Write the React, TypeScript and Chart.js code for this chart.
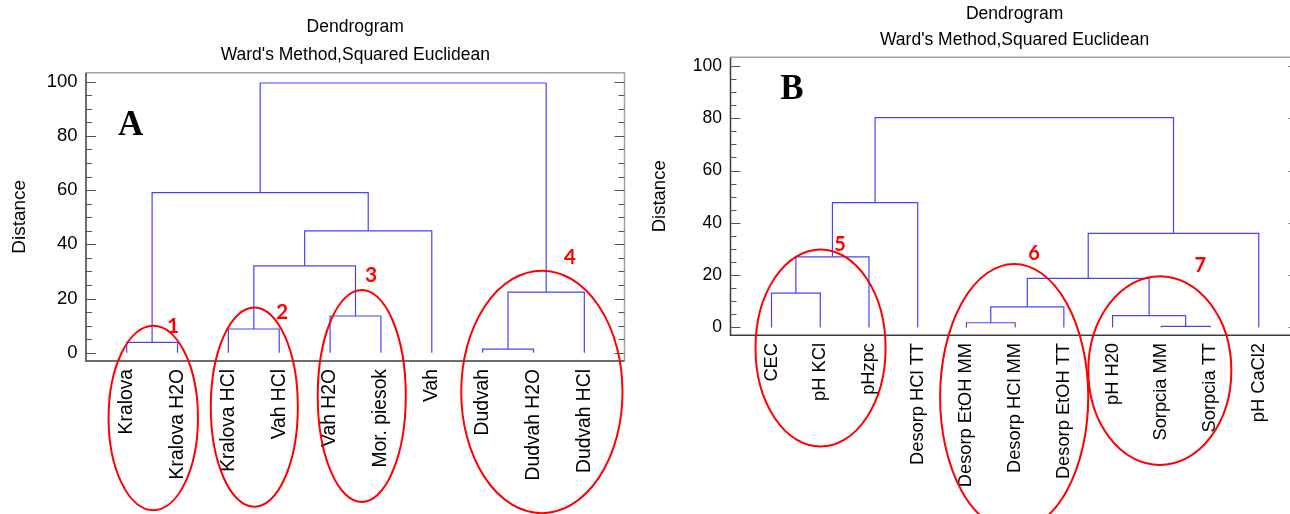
import { useEffect, useRef } from "react";
import { Chart, registerables } from "chart.js";

Chart.register(...registerables);

// ---------- Data: panel A ----------
const leavesA = ["Kralova", "Kralova H2O", "Kralova HCl", "Vah HCl", "Vah H2O", "Mor. piesok", "Vah", "Dudvah", "Dudvah H2O", "Dudvah HCl"];
// merge k joins node mergeLeft[k] with node mergeRight[k]; nodes 0..n-1 are leaves, n+k is the cluster of merge k
const mergeLeftA = [7, 0, 2, 4, 10, 12, 15, 11, 17];
const mergeRightA = [8, 1, 3, 5, 9, 13, 6, 16, 14];
const mergeHeightA = [1.4, 3.9, 8.8, 13.6, 22.4, 32.1, 45.0, 59.1, 99.5];

// ---------- Data: panel B ----------
const leavesB = ["CEC", "pH KCl", "pHzpc", "Desorp HCl TT", "Desorp EtOH MM", "Desorp HCl MM", "Desorp EtOH TT", "pH H20", "Sorpcia MM", "Sorpcia TT", "pH CaCl2"];
const mergeLeftB = [8, 4, 7, 12, 0, 14, 15, 16, 17, 19];
const mergeRightB = [9, 5, 11, 6, 1, 13, 2, 10, 3, 18];
const mergeHeightB = [0.4, 1.8, 4.5, 7.9, 13.1, 18.8, 27.0, 36.0, 47.7, 80.2];

// ---------- Shared text / ticks ----------
const yTickValues = [0, 20, 40, 60, 80, 100];
const minorTickValues = [0, 5, 10, 15, 20, 25, 30, 35, 40, 45, 50, 55, 60, 65, 70, 75, 80, 85, 90, 95, 100];
const chartTitle = "Dendrogram";
const chartSubtitle = "Ward's Method,Squared Euclidean";
const yAxisTitle = "Distance";

// ---------- Annotations (in axis units: leaf index / distance) ----------
const panelLetterA = { text: "A", x: 0.08, y: 80.4 };
const panelLetterB = { text: "B", x: 0.42, y: 87.2 };
const groupEllipsesA = [
  { cx: 0.523, cy: -24.0, rx: 0.879, ry: 34.0 },
  { cx: 2.51, cy: -20.0, rx: 0.856, ry: 36.7 },
  { cx: 4.623, cy: -15.9, rx: 0.866, ry: 39.1 },
  { cx: 8.165, cy: -14.4, rx: 1.586, ry: 44.7 },
];
const groupNumbersA = [
  { text: "1", x: 0.915, y: 7.3 },
  { text: "2", x: 3.057, y: 12.6 },
  { text: "3", x: 4.808, y: 26.2 },
  { text: "4", x: 8.715, y: 32.9 },
];
const groupEllipsesB = [
  { cx: 1.006, cy: -7.86, rx: 1.335, ry: 37.7 },
  { cx: 4.98, cy: -26.6, rx: 1.52, ry: 50.9 },
  { cx: 7.97, cy: -16.5, rx: 1.468, ry: 36.1 },
];
const groupNumbersB = [
  { text: "5", x: 1.407, y: 29.1 },
  { text: "6", x: 5.39, y: 25.9 },
  { text: "7", x: 8.8, y: 21.2 },
];

type Pt = { x: number; y: number };

function buildLinks(n: number, left: number[], right: number[], height: number[]): Pt[][] {
  const pos: number[] = [];
  const h: number[] = [];
  for (let i = 0; i < n; i++) {
    pos[i] = i;
    h[i] = 0;
  }
  const links: Pt[][] = [];
  for (let k = 0; k < left.length; k++) {
    const a = left[k];
    const b = right[k];
    const node = n + k;
    pos[node] = (pos[a] + pos[b]) / 2;
    h[node] = height[k];
    links.push([
      { x: pos[a], y: h[a] },
      { x: pos[a], y: height[k] },
      { x: pos[b], y: height[k] },
      { x: pos[b], y: h[b] },
    ]);
  }
  return links;
}

type PanelProps = {
  leaves: string[];
  mLeft: number[];
  mRight: number[];
  mHeight: number[];
  letter: { text: string; x: number; y: number };
  ellipses: { cx: number; cy: number; rx: number; ry: number }[];
  numbers: { text: string; x: number; y: number }[];
  canvasLeft: number;
  canvasWidth: number;
  areaLeft: number;
  areaRight: number;
  areaTop: number;
  areaBottom: number;
  xMin: number;
  xMax: number;
  titleY: number;
  subtitleY: number;
  titleSize: number;
  tickSize: number;
  leafSize: number;
  axisTitleSize: number;
  axisTitlePad: number;
  tickPad: number;
  leafPad: number;
  numberSize: number;
};

const H = 514;

function Panel(p: PanelProps) {
  const ref = useRef<HTMLCanvasElement | null>(null);
  useEffect(() => {
    if (!ref.current) return;
    const links = buildLinks(p.leaves.length, p.mLeft, p.mRight, p.mHeight);
    const decor = {
      id: "decor",
      afterDraw(chart: any) {
        const { ctx, chartArea } = chart;
        const { left, right, top, bottom } = chartArea;
        const xs = chart.scales.x;
        const ys = chart.scales.y;
        ctx.save();
        // frame
        ctx.lineWidth = 1.5;
        ctx.strokeStyle = "#a3a3a3";
        ctx.beginPath();
        ctx.moveTo(left, top);
        ctx.lineTo(right, top);
        ctx.lineTo(right, bottom);
        ctx.stroke();
        ctx.strokeStyle = "#3c3c3c";
        ctx.beginPath();
        ctx.moveTo(left, top);
        ctx.lineTo(left, bottom);
        ctx.lineTo(right, bottom);
        ctx.stroke();
        // inward ticks
        ctx.lineWidth = 1;
        ctx.strokeStyle = "#555555";
        ctx.beginPath();
        for (const v of minorTickValues) {
          const py = Math.round(ys.getPixelForValue(v)) + 0.5;
          const len = yTickValues.includes(v) ? 10 : 6;
          ctx.moveTo(left, py);
          ctx.lineTo(left + len, py);
          ctx.moveTo(right, py);
          ctx.lineTo(right - len, py);
        }
        ctx.stroke();
        // titles
        const cx = (left + right) / 2;
        ctx.fillStyle = "#000";
        ctx.textAlign = "center";
        ctx.textBaseline = "middle";
        ctx.font = `${p.titleSize}px "Liberation Sans", Arial, sans-serif`;
        ctx.fillText(chartTitle, cx, p.titleY);
        ctx.fillText(chartSubtitle, cx, p.subtitleY);
        // panel letter
        ctx.textBaseline = "alphabetic";
        ctx.font = `bold 35px "Liberation Serif", "Times New Roman", serif`;
        ctx.fillText(p.letter.text, xs.getPixelForValue(p.letter.x), ys.getPixelForValue(p.letter.y));
        // ellipses
        const ux = Math.abs(xs.getPixelForValue(1) - xs.getPixelForValue(0));
        const uy = Math.abs(ys.getPixelForValue(1) - ys.getPixelForValue(0));
        ctx.strokeStyle = "#ff0000";
        ctx.lineWidth = 2;
        for (const e of p.ellipses) {
          ctx.beginPath();
          ctx.ellipse(xs.getPixelForValue(e.cx), ys.getPixelForValue(e.cy), e.rx * ux, e.ry * uy, 0, 0, Math.PI * 2);
          ctx.stroke();
        }
        ctx.fillStyle = "#ff0000";
        ctx.font = `bold ${p.numberSize}px Lato, "Liberation Sans", sans-serif`;
        for (const t of p.numbers) {
          ctx.fillText(t.text, xs.getPixelForValue(t.x), ys.getPixelForValue(t.y));
        }
        ctx.restore();
      },
    };
    const chart = new Chart(ref.current, {
      type: "scatter",
      data: {
        datasets: links.map((d) => ({
          data: d,
          showLine: true,
          borderColor: "#4343ff",
          borderWidth: 1.2,
          pointRadius: 0,
          pointHoverRadius: 0,
          fill: false,
          tension: 0,
        })),
      },
      options: {
        animation: false,
        responsive: false,
        maintainAspectRatio: false,
        events: [],
        layout: {
          padding: { left: 0, top: p.areaTop, right: p.canvasWidth - p.areaRight, bottom: 0 },
        },
        plugins: {
          legend: { display: false },
          tooltip: { enabled: false },
          title: { display: false },
        },
        scales: {
          x: {
            type: "linear",
            min: p.xMin,
            max: p.xMax,
            grid: { display: false, drawTicks: false },
            border: { display: false },
            afterBuildTicks: (s: any) => {
              s.ticks = p.leaves.map((_, i) => ({ value: i }));
            },
            afterFit: (s: any) => {
              s.height = H - p.areaBottom;
            },
            ticks: {
              autoSkip: false,
              minRotation: 90,
              maxRotation: 90,
              padding: p.leafPad,
              color: "#000",
              font: { family: '"Liberation Sans", Arial, sans-serif', size: p.leafSize },
              callback: (v: any) => p.leaves[Math.round(Number(v))] ?? "",
            },
          },
          y: {
            type: "linear",
            min: -3,
            max: 103.3,
            grid: { display: false, drawTicks: false },
            border: { display: false },
            afterBuildTicks: (s: any) => {
              s.ticks = yTickValues.map((v) => ({ value: v }));
            },
            afterFit: (s: any) => {
              s.width = p.areaLeft;
            },
            ticks: {
              padding: p.tickPad,
              color: "#000",
              font: { family: '"Liberation Sans", Arial, sans-serif', size: p.tickSize },
              callback: (v: any) => String(v),
            },
            title: {
              display: true,
              text: yAxisTitle,
              color: "#000",
              padding: { top: p.axisTitlePad, bottom: 0 },
              font: { family: '"Liberation Sans", Arial, sans-serif', size: p.axisTitleSize },
            },
          },
        },
      },
      plugins: [decor],
    } as any);
    return () => chart.destroy();
  }, []);
  return (
    <canvas
      ref={ref}
      width={p.canvasWidth}
      height={H}
      style={{ position: "absolute", left: p.canvasLeft, top: 0, width: p.canvasWidth, height: H }}
    />
  );
}

export default function App() {
  return (
    <div
      style={{
        position: "absolute",
        left: 0,
        top: 0,
        width: 1290,
        height: 514,
        overflow: "hidden",
        background: "#ffffff",
      }}
    >
      <Panel
        leaves={leavesA}
        mLeft={mergeLeftA}
        mRight={mergeRightA}
        mHeight={mergeHeightA}
        letter={panelLetterA}
        ellipses={groupEllipsesA}
        numbers={groupNumbersA}
        canvasLeft={0}
        canvasWidth={645}
        areaLeft={86}
        areaRight={624.5}
        areaTop={72.7}
        areaBottom={361}
        xMin={-0.8}
        xMax={9.79}
        titleY={27}
        subtitleY={55.5}
        titleSize={17.5}
        tickSize={18.5}
        leafSize={19.3}
        axisTitleSize={19}
        axisTitlePad={8.6}
        tickPad={8.5}
        leafPad={8}
        numberSize={21}
      />
      <Panel
        leaves={leavesB}
        mLeft={mergeLeftB}
        mRight={mergeRightB}
        mHeight={mergeHeightB}
        letter={panelLetterB}
        ellipses={groupEllipsesB}
        numbers={groupNumbersB}
        canvasLeft={645}
        canvasWidth={655}
        areaLeft={85.5}
        areaRight={653.7}
        areaTop={57.3}
        areaBottom={335.3}
        xMin={-0.842}
        xMax={10.82}
        titleY={14}
        subtitleY={40.5}
        titleSize={17.5}
        tickSize={17.5}
        leafSize={18.3}
        axisTitleSize={18.5}
        axisTitlePad={3.9}
        tickPad={8.5}
        leafPad={7.7}
        numberSize={20}
      />
    </div>
  );
}
